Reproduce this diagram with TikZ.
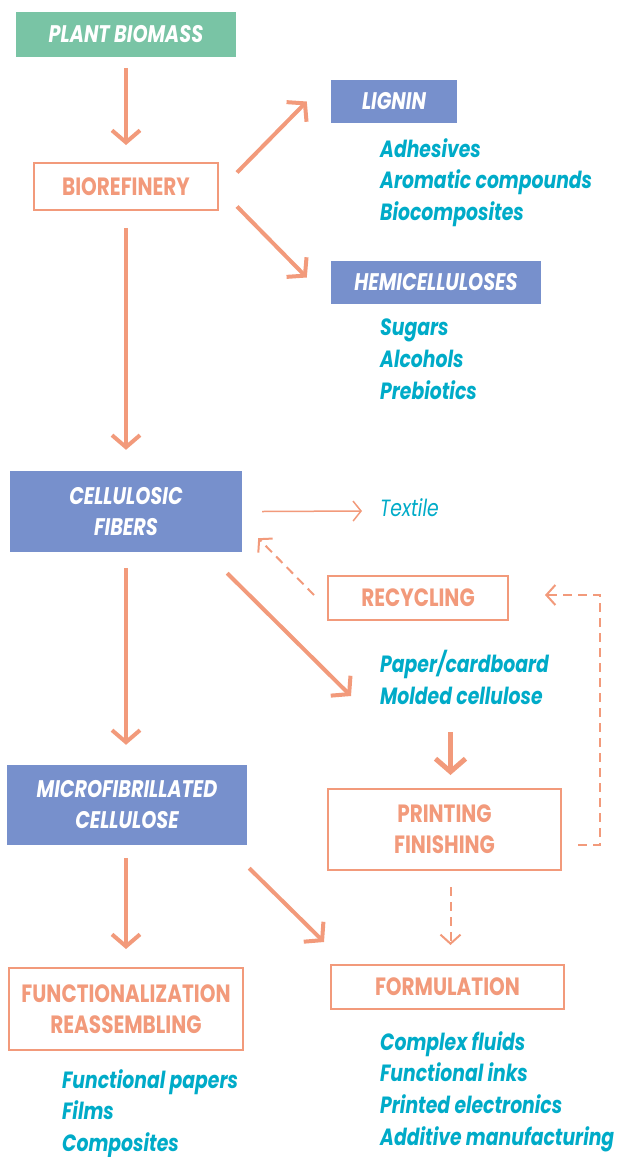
\documentclass[tikz,border=0pt]{standalone}
\usepackage{fontspec}
\setmainfont{Poppins}
\newfontfamily\boxfont[FakeStretch=0.8]{Poppins}
\newfontfamily\listfont[FakeStretch=0.8]{Poppins}
\usetikzlibrary{calc}
\usetikzlibrary{arrows.meta}
\usetikzlibrary{positioning}

\definecolor{greenbox}{HTML}{79C4A5}
\definecolor{bluebox}{HTML}{7790CC}
\definecolor{salmon}{HTML}{F29A7B}
\definecolor{usecolor}{HTML}{00ABC8}

\begin{document}
\begin{tikzpicture}[x=1pt, y=-1pt,
    filledbox/.style={fill=#1, text=white, inner sep=0, align=center,
      font=\boxfont\bfseries\itshape\fontsize{24}{31}\selectfont},
    stagebox/.style={draw=salmon, line width=2pt, text=salmon, inner sep=0,
      align=center, font=\boxfont\bfseries\fontsize{25}{31}\selectfont},
    uselist/.style={text=usecolor, inner sep=0, align=left, anchor=north west,
      font=\listfont\bfseries\itshape\fontsize{23.5}{31.7}\selectfont},
    flow/.style={salmon, line width=4pt, -{Straight Barb[length=12pt,width=28pt]}},
    thinflow/.style={salmon, line width=1.5pt, -{Straight Barb[length=8pt,width=20pt]}},
    dashflow/.style={salmon, line width=2pt, dash pattern=on 9pt off 6pt,
      -{Straight Barb[length=9pt,width=20pt]}}
  ]
  \useasboundingbox (0,0) rectangle (624,1157);

  % feedstock and refinery
  \node[filledbox=greenbox, minimum width=220pt, minimum height=45pt] (plant) at (126,34.5) {PLANT BIOMASS};
  \node[stagebox, minimum width=184pt, minimum height=47pt] (refinery) at (126,186.5) {BIOREFINERY};

  % side products
  \node[filledbox=bluebox, minimum width=126pt, minimum height=43pt] (lignin) at (394,101.5) {LIGNIN};
  \node[uselist] (lignin_uses) at (380,138) {Adhesives\\Aromatic compounds\\Biocomposites};
  \node[filledbox=bluebox, minimum width=210pt, minimum height=43pt] (hemi) at (436,282.5) {HEMICELLULOSES};
  \node[uselist] (hemi_uses) at (380,319) {Sugars\\Alcohols\\Prebiotics};

  % cellulose chain
  \node[filledbox=bluebox, minimum width=232pt, minimum height=81pt] (fibers) at (126,511.5) {CELLULOSIC\\FIBERS};
  \node[uselist, anchor=west, font=\listfont\itshape\fontsize{23.5}{31.7}\selectfont] (textile) at (380,508) {Textile};
  \node[stagebox, minimum width=180pt, minimum height=44pt] (recycling) at (418,598) {RECYCLING};
  \node[uselist] (paper) at (380,650) {Paper/cardboard\\Molded cellulose};
  \node[stagebox, minimum width=233pt, minimum height=81pt] (printing) at (444.5,829.5) {PRINTING\\FINISHING};
  \node[filledbox=bluebox, minimum width=240pt, minimum height=80pt] (micro) at (127,805) {MICROFIBRILLATED\\CELLULOSE};
  \node[stagebox, minimum width=234pt, minimum height=82pt] (func) at (126,1009) {FUNCTIONALIZATION\\REASSEMBLING};
  \node[uselist] (func_uses) at (62,1069) {Functional papers\\Films\\Composites};
  \node[uselist] (form_uses) at (380,1031) {Complex fluids\\Functional inks\\Printed electronics\\Additive manufacturing};
  \node[stagebox, minimum width=233pt, minimum height=44pt] (formulation) at (447.5,987) {FORMULATION};

  % connectors
  \draw[flow, shorten <=11pt, shorten >=17pt] (plant) -- (refinery);
  \draw[flow] ($(refinery.east)+(18,-14)$) -- ($(lignin.west)+(-24,0)$);
  \draw[flow] ($(refinery.east)+(18,20)$) -- ($(hemi.west)+(-24,-5)$);
  \draw[flow, shorten <=17pt, shorten >=21pt] (refinery) -- (fibers);
  \draw[thinflow] ($(fibers.east)+(20,0)$) -- ($(textile.west)+(-18,3)$);
  \draw[dashflow] ($(recycling.west)+(-13,-3)$) -- ($(fibers.south east)+(16,-14)$);
  \draw[flow] ($(fibers.south east)+(-15,21)$) -- ($(printing.north west)+(24,-92)$);
  \draw[salmon, line width=5pt, -{Straight Barb[length=13pt,width=30pt]}]
    ($(printing.north)+(6,-56)$) -- ($(printing.north)+(6,-13)$);
  \draw[dashflow] ($(printing.east)+(16,15)$) -- ++(22,0) |- ($(recycling.east)+(36,-3)$);
  \draw[dashflow] ($(formulation.north)+(3,-77)$) -- ($(formulation.north)+(3,-19)$);
  \draw[flow, shorten <=16pt, shorten >=20pt] (fibers) -- (fibers |- micro.north);
  \draw[flow, shorten <=13pt, shorten >=18pt] (micro.south -| func) -- (func);
  \draw[flow] ($(micro.south east)+(2,23)$) -- ($(formulation.north west)+(-6,-22)$);
\end{tikzpicture}
\end{document}
